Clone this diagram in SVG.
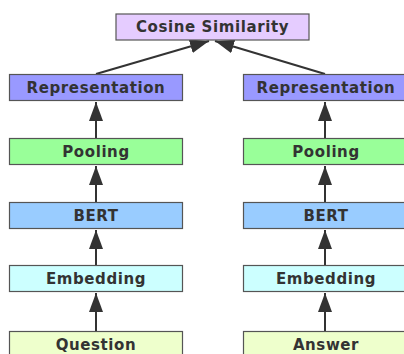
<svg xmlns="http://www.w3.org/2000/svg" width="404" height="354" viewBox="0 0 404 354">
<defs>
<style>
.box{stroke:#555;stroke-width:1.2}
.t{font-family:"DejaVu Sans","Liberation Sans",sans-serif;font-weight:bold;font-size:15px;fill:#333;text-anchor:middle;dominant-baseline:central;letter-spacing:0.6px}
.c{stroke:#333;stroke-width:2;fill:none;marker-end:url(#ah)}
</style>
<marker id="ah" viewBox="0 0 19 14" refX="19" refY="7" markerWidth="19" markerHeight="14" markerUnits="userSpaceOnUse" orient="auto">
<path d="M0,0 L19,7 L0,14 Z" fill="#333"/>
</marker>
</defs>
<rect width="404" height="354" fill="#fff"/>
<g id="connectors">
<line class="c" x1="96" y1="74" x2="209" y2="41"/>
<line class="c" x1="325" y1="74" x2="215" y2="41"/>
<line class="c" x1="96" y1="139" x2="96" y2="102"/>
<line class="c" x1="96" y1="203" x2="96" y2="166"/>
<line class="c" x1="96" y1="265" x2="96" y2="230"/>
<line class="c" x1="96" y1="331" x2="96" y2="293"/>
<line class="c" x1="325" y1="139" x2="325" y2="102"/>
<line class="c" x1="325" y1="203" x2="325" y2="166"/>
<line class="c" x1="325" y1="265" x2="325" y2="230"/>
<line class="c" x1="325" y1="331" x2="325" y2="293"/>
</g>
<g id="cosine"><rect class="box" x="116" y="14" width="193" height="26" fill="#e5ccff"/><text class="t" x="212.5" y="27">Cosine Similarity</text></g>
<g id="rep-left"><rect class="box" x="9.5" y="74.5" width="173" height="26" fill="#9999ff"/><text class="t" x="96" y="87.5">Representation</text></g>
<g id="pool-left"><rect class="box" x="9.5" y="138.5" width="173" height="26" fill="#99ff99"/><text class="t" x="96" y="151.5">Pooling</text></g>
<g id="bert-left"><rect class="box" x="9.5" y="202.5" width="173" height="26" fill="#99ccff"/><text class="t" x="96" y="215.5">BERT</text></g>
<g id="emb-left"><rect class="box" x="9.5" y="265.5" width="173" height="26" fill="#ccffff"/><text class="t" x="96" y="278.5">Embedding</text></g>
<g id="question"><rect class="box" x="9.5" y="331.5" width="173" height="26" fill="#eeffcc"/><text class="t" x="96" y="344.5">Question</text></g>
<g id="rep-right"><rect class="box" x="243.5" y="74.5" width="165" height="26" fill="#9999ff"/><text class="t" x="326" y="87.5">Representation</text></g>
<g id="pool-right"><rect class="box" x="243.5" y="138.5" width="165" height="26" fill="#99ff99"/><text class="t" x="326" y="151.5">Pooling</text></g>
<g id="bert-right"><rect class="box" x="243.5" y="202.5" width="165" height="26" fill="#99ccff"/><text class="t" x="326" y="215.5">BERT</text></g>
<g id="emb-right"><rect class="box" x="243.5" y="265.5" width="165" height="26" fill="#ccffff"/><text class="t" x="326" y="278.5">Embedding</text></g>
<g id="answer"><rect class="box" x="243.5" y="331.5" width="165" height="26" fill="#eeffcc"/><text class="t" x="326" y="344.5">Answer</text></g>
</svg>
